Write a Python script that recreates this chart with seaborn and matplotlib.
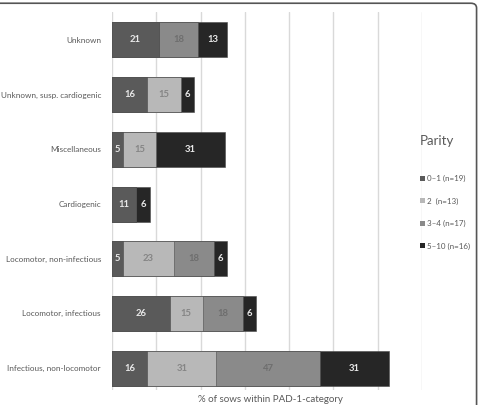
import matplotlib
matplotlib.use("Agg")
import matplotlib.pyplot as plt
from matplotlib.patches import Patch, FancyBboxPatch
import seaborn as sns
import pandas as pd
import numpy as np

categories = ["Unknown", "Unknown, susp. cardiogenic", "Miscellaneous", "Cardiogenic",
              "Locomotor, non-infectious", "Locomotor, infectious", "Infectious, non-locomotor"]
series_names = ["0\u20131 (n=19)", "2  (n=13)", "3\u20134 (n=17)", "5\u201310 (n=16)"]
p01 = [21, 16, 5, 11, 5, 26, 16]
p2 = [0, 15, 15, 0, 23, 15, 31]
p34 = [18, 0, 0, 0, 18, 18, 47]
p510 = [13, 6, 31, 6, 6, 6, 31]
series_values = [p01, p2, p34, p510]
colors = ["#5a5a5a", "#b8b8b8", "#8a8a8a", "#262626"]
text_colors = ["#e8e8e8", "#858585", "#6e6e6e", "#e8e8e8"]

sns.set_theme(style="white")
plt.rcParams['font.family'] = ['Lato', 'DejaVu Sans']

fig = plt.figure(figsize=(4.78, 4.05), dpi=100)
W, H = 478, 405
top_px, bot_px = 12, 390
ax = fig.add_axes([112 / W, 1 - bot_px / H, (422 - 112) / W, (bot_px - top_px) / H])

cum = np.zeros(len(categories))
cums = []
for vals in series_values:
    cum = cum + np.array(vals)
    cums.append(cum.copy())

# draw cumulative layers back to front
for k in range(len(series_values) - 1, -1, -1):
    d = pd.DataFrame({"category": categories, "value": cums[k]})
    sns.barplot(data=d, y="category", x="value", orient="h", color=colors[k],
                width=0.64, edgecolor="#4a4a4a", linewidth=0.4, saturation=1,
                ax=ax, zorder=3)

# value labels
for k, vals in enumerate(series_values):
    starts = cums[k] - np.array(vals)
    for i, v in enumerate(vals):
        if v > 0:
            ax.text(starts[i] + v / 2, i, str(v), ha="center", va="center",
                    fontsize=6.8, fontweight="bold", color=text_colors[k], zorder=5)

ax.set_xlim(0, 140)
ax.set_ylim(6.40, -0.51)
ax.set_xticks(np.arange(0, 141, 20))
ax.set_xticklabels([])
ax.grid(axis="x", color="#d9d9d9", linewidth=1.0, zorder=0)
ax.set_axisbelow(True)
for s in ax.spines.values():
    s.set_visible(False)
ax.tick_params(axis="both", length=0)
ax.tick_params(axis="y", pad=8, labelsize=5.9, labelcolor="#595959")
ax.set_ylabel("")
ax.set_xlabel("")
fig.text(270 / W, 1 - 399 / H, "% of sows within PAD-1-category", fontsize=7,
         color="#595959", ha="center", va="center")

# legend
fig.text(420 / W, 1 - 141 / H, "Parity", fontsize=9.5, color="#595959", ha="left", va="center")
handles = [Patch(facecolor=c, edgecolor="none") for c in colors]
leg = fig.legend(handles, series_names, loc="upper left",
                 bbox_to_anchor=(420 / W, 1 - 175 / H), frameon=False,
                 fontsize=5.8, handlelength=0.6, handleheight=0.6,
                 handletextpad=0.3, labelspacing=1.9, borderpad=0, borderaxespad=0)
for t in leg.get_texts():
    t.set_color("#595959")

# figure border (rounded, partially cropped)
border = FancyBboxPatch((-0.02, -0.05), 1.017, 1.042, boxstyle="round,pad=0,rounding_size=0.012",
                        transform=fig.transFigure, fill=False, edgecolor="#555555", linewidth=1.2)
fig.add_artist(border)

fig.savefig("out.png", dpi=100)
